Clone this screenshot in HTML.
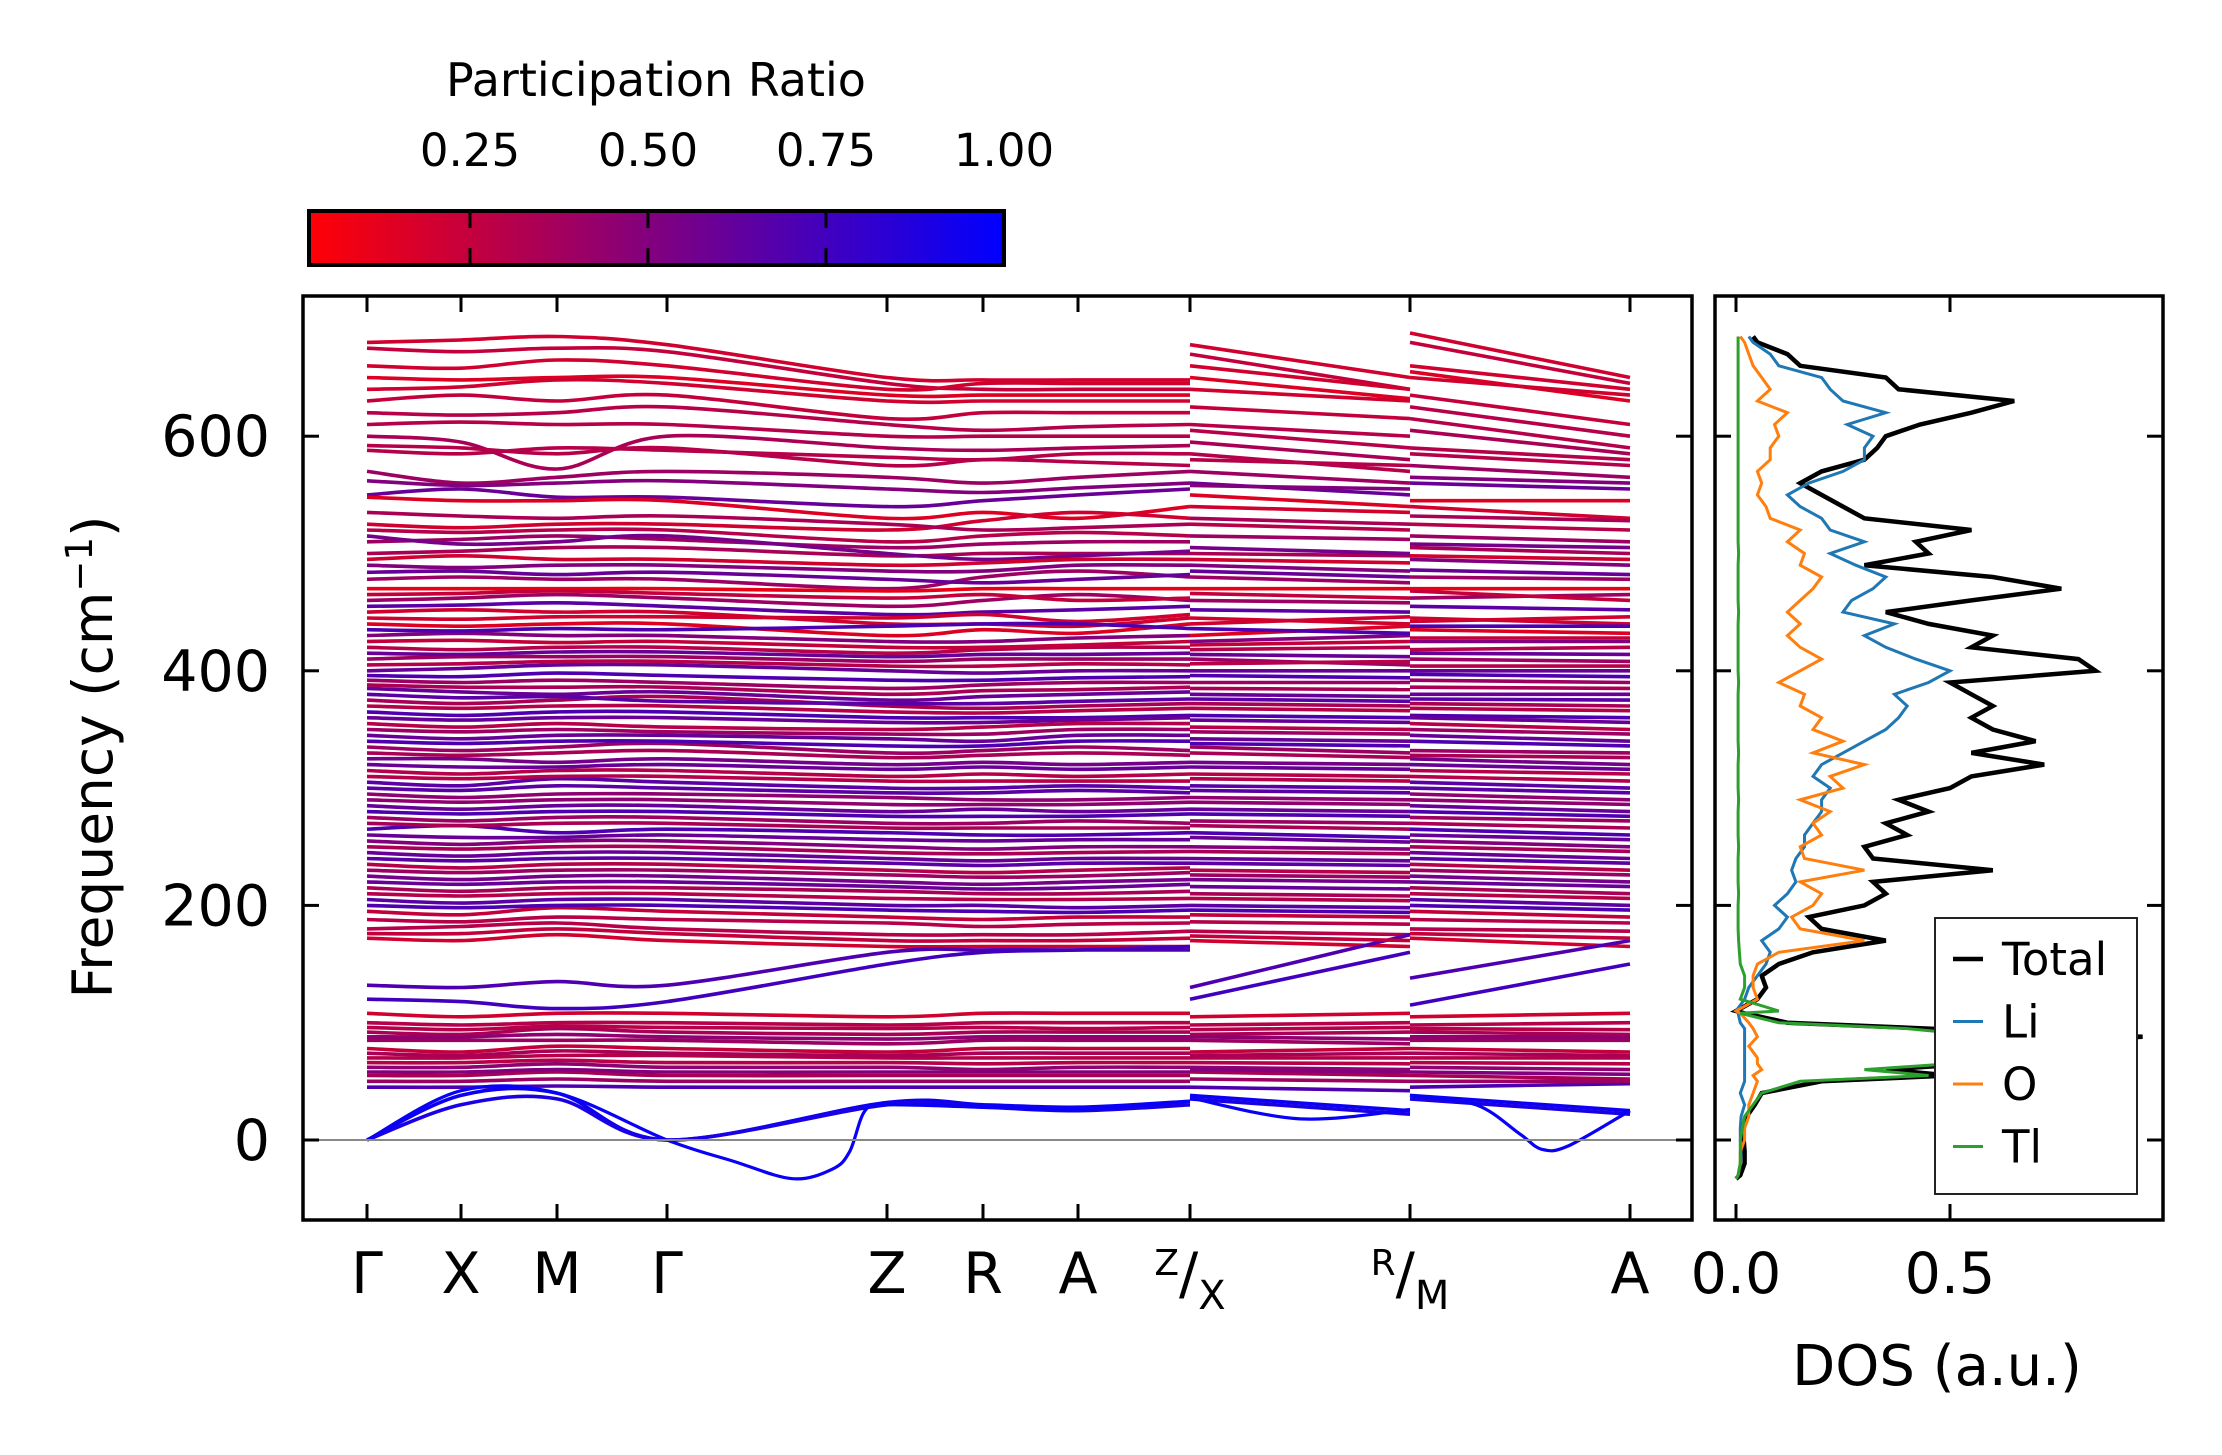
<!DOCTYPE html>
<html><head><meta charset="utf-8">
<style>
html,body{margin:0;padding:0;background:#fff;}
svg{display:block;font-family:"DejaVu Sans","Liberation Sans",sans-serif;}
</style></head>
<body>
<svg id="fig" width="2222" height="1455" viewBox="0 0 2222 1455" xmlns="http://www.w3.org/2000/svg">
<defs>
<linearGradient id="cmap" x1="0" x2="1" y1="0" y2="0">
<stop offset="0" stop-color="#ff0005"/><stop offset="0.5" stop-color="#800080"/><stop offset="1" stop-color="#0000ff"/>
</linearGradient>
<clipPath id="mainclip"><rect x="303" y="296" width="1389" height="924"/></clipPath>
<clipPath id="dosclip"><rect x="1715" y="296" width="448" height="924"/></clipPath>
</defs>
<g id="colorbar">
<text x="656" y="96" font-size="46" text-anchor="middle">Participation Ratio</text>
<rect x="309" y="211" width="695" height="54" fill="url(#cmap)" stroke="#000" stroke-width="4"/>
<g id="cbticks"></g>
</g>
<g id="bands" clip-path="url(#mainclip)"></g>
<line x1="303" x2="1692" y1="1140" y2="1140" stroke="#888" stroke-width="2"/>
<rect x="303" y="296" width="1389" height="924" fill="none" stroke="#000" stroke-width="3.5"/>
<g id="mainticks"></g>
<text transform="translate(112,757) rotate(-90)" font-size="55" text-anchor="middle">Frequency (cm<tspan dy="-20" font-size="37">−1</tspan><tspan dy="20">)</tspan></text>
<g id="dos" clip-path="url(#dosclip)"></g>
<rect x="1715" y="296" width="448" height="924" fill="none" stroke="#000" stroke-width="3.5"/>
<g id="dosticks"></g>
<text x="1937" y="1385" font-size="56" text-anchor="middle">DOS (a.u.)</text>
<g id="legend">
<rect x="1935" y="918" width="202" height="276" fill="#fff" stroke="#222" stroke-width="2"/>
</g>
</svg>
<script>
// ---------- data ----------
const kLabels = ["Γ","X","M","Γ","Z","R","A","Z|X","R|M","A"];
const yTicks = [0,200,400,600];
const cbTicks = [0.25,0.50,0.75,1.00];
const dosTicks = [0.0,0.5];
// band values at nodes: Γ,X,M,Γ,Z,R,A,Z | X,R | M,A
const bandValues = [
[680,682,685,678,650,648,648,648,678,650,688,650],
[675,672,675,672,645,640,640,640,670,640,680,645],
[660,658,665,660,640,645,645,645,660,640,660,640],
[650,648,650,650,635,635,635,635,650,632,655,630],
[640,642,648,645,630,630,630,630,640,630,650,635],
[630,635,630,635,615,620,620,620,625,615,635,610],
[620,618,620,625,610,605,608,610,610,600,625,600],
[610,612,610,610,600,600,600,600,605,590,615,590],
[600,595,572,600,590,588,590,592,595,580,605,585],
[592,590,585,590,575,580,578,575,585,570,590,580],
[570,560,565,570,565,560,565,570,570,560,575,565],
[550,555,548,548,540,545,550,555,560,550,560,555],
[548,545,545,545,530,535,530,540,550,540,545,545],
[525,522,525,525,520,528,535,530,540,535,540,530],
[520,518,520,520,510,515,518,515,525,520,525,520],
[510,512,515,512,505,508,510,510,515,512,515,510],
[500,502,505,505,498,500,500,500,500,498,505,500],
[490,488,490,490,485,485,490,490,490,485,495,490],
[478,480,478,478,470,480,485,480,480,475,480,478],
[470,470,470,470,468,470,470,470,470,470,470,470],
[460,462,465,462,455,460,465,460,460,458,462,465],
[450,452,450,450,440,440,438,445,445,440,445,440],
[440,438,440,440,430,435,432,440,430,438,435,432],
[430,432,430,430,425,425,428,430,425,430,425,425],
[420,418,420,420,415,418,420,420,418,420,418,420],
[410,412,412,412,408,410,410,410,410,405,410,408],
[400,402,405,405,400,398,400,400,400,400,400,400],
[392,390,392,390,385,388,390,390,390,390,392,390],
[385,382,380,382,375,378,380,382,380,378,380,380],
[375,372,375,378,370,368,370,372,372,370,372,370],
[365,362,365,365,360,360,360,362,362,360,362,360],
[355,352,355,352,350,352,355,355,352,350,355,350],
[345,342,345,345,342,340,345,345,342,340,345,340],
[335,332,335,338,330,332,335,332,335,330,332,330],
[325,325,322,325,320,322,320,322,322,320,325,320],
[315,312,315,315,310,312,310,312,312,310,315,312],
[305,302,308,305,300,300,302,300,302,300,305,300],
[295,292,295,295,292,290,290,292,292,290,295,290],
[285,282,285,285,280,282,280,282,282,280,285,280],
[275,272,275,275,270,270,272,270,272,270,275,272],
[265,268,262,265,262,260,260,262,262,258,265,260],
[255,252,255,255,250,248,250,250,250,248,255,250],
[245,242,245,245,240,238,240,240,240,238,245,240],
[235,232,235,235,230,228,230,232,230,228,235,230],
[225,222,225,225,220,218,220,222,222,220,225,220],
[215,212,215,215,212,210,210,212,210,208,215,210],
[205,202,205,205,200,200,198,200,200,198,205,200],
[195,192,198,195,190,188,190,190,192,190,195,190],
[180,182,185,180,175,175,175,178,178,175,180,178],
[172,170,175,170,165,165,165,165,170,165,172,165],
[132,130,135,132,160,162,162,162,130,175,138,170],
[120,118,112,118,150,160,162,165,120,160,115,150],
[108,105,108,108,105,108,108,108,105,108,105,108],
[100,98,100,100,98,100,100,100,98,100,98,100],
[92,90,95,92,90,92,92,92,90,92,92,90],
[85,85,85,85,82,85,85,85,85,82,85,85],
[78,75,80,78,75,78,78,78,75,78,78,75],
[70,70,72,72,70,70,70,70,70,70,70,70],
[62,62,65,62,62,60,62,62,62,60,62,60],
[55,55,58,55,55,55,55,55,58,55,55,52],
[45,45,46,45,45,45,45,45,45,42,45,48],
[0,38,40,0,32,30,28,33,38,25,38,25],
[0,30,35,0,30,28,25,30,35,22,35,22],
[588,585,590,588,582,580,585,585,580,575,585,575],
[562,558,560,562,555,552,556,560,558,555,565,560],
[535,532,530,532,525,520,522,525,530,525,532,528],
[515,508,510,515,500,495,498,502,505,500,508,505],
[495,498,495,495,490,492,495,495,495,492,498,495],
[484,485,482,484,478,475,478,482,485,480,486,482],
[465,466,468,466,462,465,460,462,466,462,468,460],
[455,456,458,455,448,450,452,455,452,450,455,452],
[445,444,446,446,445,448,442,448,440,446,442,446],
[435,434,436,435,438,440,440,436,436,432,438,438],
[425,426,424,425,420,420,422,425,422,425,428,428],
[415,414,416,416,412,414,414,415,414,412,415,414],
[405,406,408,408,404,404,406,405,406,408,404,404],
[396,395,398,396,392,392,394,395,396,394,397,395],
[388,386,386,386,380,383,384,386,385,384,386,385],
[380,377,378,374,372,372,374,376,376,374,376,375],
[370,368,370,370,365,364,366,368,368,366,368,366],
[360,358,360,360,356,356,358,360,358,356,360,356],
[350,348,350,348,346,346,350,350,348,346,350,346],
[340,338,340,340,336,336,340,340,338,336,340,336],
[330,328,330,332,326,328,330,328,330,326,328,326],
[320,318,318,320,316,318,316,318,318,316,320,316],
[310,308,310,310,306,306,306,306,308,306,310,306],
[300,298,302,300,296,296,298,296,298,296,300,296],
[290,288,290,290,286,286,286,288,288,286,290,286],
[280,278,280,280,276,276,276,278,278,276,280,276],
[270,268,270,270,266,266,266,266,268,265,270,266],
[260,258,258,260,256,255,256,256,258,254,260,256],
[250,248,250,250,245,244,245,246,246,244,250,246],
[240,238,240,240,236,234,236,236,236,234,240,236],
[230,228,230,230,226,224,225,228,226,224,230,226],
[220,218,220,220,216,214,215,218,216,214,220,216],
[210,208,210,210,206,205,205,206,206,204,210,206],
[200,198,200,200,196,195,194,196,196,194,200,196],
[188,186,190,188,185,182,184,185,186,184,188,185],
[176,176,180,176,170,170,170,172,174,170,176,172],
[96,94,97,96,95,96,95,96,94,96,95,94],
[88,88,90,88,86,88,88,88,88,86,88,88],
[74,72,76,74,72,74,74,74,72,74,74,72],
[66,66,68,66,66,65,66,66,66,65,66,65],
[58,58,60,58,58,58,58,58,60,58,58,56],
[50,50,52,50,50,50,50,50,52,50,50,50]
];
const bandRatios = [0.2,0.25,0.2,0.15,0.2,0.25,0.3,0.3,0.35,0.3,0.4,0.6,0.15,0.2,0.3,0.4,0.35,0.5,0.4,0.1,0.4,0.2,0.15,0.5,0.3,0.4,0.6,0.4,0.6,0.35,0.7,0.3,0.6,0.4,0.55,0.3,0.65,0.45,0.6,0.4,0.7,0.5,0.6,0.3,0.55,0.35,0.65,0.25,0.3,0.2,0.7,0.75,0.2,0.3,0.35,0.4,0.25,0.3,0.45,0.35,0.7,0.95,0.9,
0.3,0.5,0.35,0.55,0.2,0.6,0.25,0.65,0.2,0.7,0.25,0.6,0.3,0.7,0.35,0.65,0.3,0.6,0.4,0.7,0.35,0.6,0.3,0.65,0.45,0.7,0.35,0.6,0.35,0.65,0.4,0.6,0.3,0.7,0.3,0.25,0.3,0.45,0.35,0.3,0.5,0.4];
// soft mode branches (fractional node index k, frequency)
const softK1 = [0,1,2,3,3.3,3.57,3.75,3.83,3.9,4,5,6,7];
const softF1 = [0,42,40,0,-18,-33,-25,-10,25,30,28,26,33];
const softK2 = [10,10.3,10.5,10.6,10.72,11];
const softF2 = [38,30,5,-8,-5,25];
const softK3 = [8,8.5,9];
const softF3 = [36,18,26];
// DOS data
const dosFreq = [-33,-30,-20,-10,0,10,20,30,40,50,55,60,65,70,80,88,95,100,108,110,120,130,140,150,160,170,180,190,200,210,220,230,240,250,260,270,280,290,300,310,320,330,340,350,360,370,380,390,400,410,420,430,440,450,460,470,480,490,500,510,520,530,540,550,560,570,580,590,600,610,620,630,640,650,660,670,680,685];
const dosTotal = [0,0.01,0.02,0.02,0.018,0.016,0.025,0.044,0.06,0.2,0.5,0.35,0.55,0.7,0.5,0.95,0.45,0.12,0.02,0,0.05,0.07,0.06,0.1,0.18,0.35,0.2,0.17,0.3,0.35,0.32,0.6,0.32,0.3,0.4,0.35,0.45,0.38,0.5,0.55,0.72,0.55,0.7,0.6,0.55,0.6,0.55,0.5,0.84,0.8,0.55,0.6,0.45,0.35,0.55,0.76,0.6,0.3,0.45,0.42,0.55,0.3,0.25,0.2,0.15,0.2,0.3,0.33,0.35,0.43,0.55,0.65,0.38,0.35,0.15,0.12,0.05,0.04];
const dosLi = [0,0.005,0.01,0.012,0.01,0.01,0.012,0.02,0.01,0.02,0.02,0.02,0.02,0.02,0.02,0.02,0.02,0.01,0.005,0,0.02,0.03,0.05,0.07,0.08,0.06,0.1,0.12,0.09,0.12,0.14,0.13,0.14,0.16,0.16,0.18,0.2,0.2,0.22,0.18,0.2,0.25,0.3,0.35,0.38,0.4,0.37,0.45,0.5,0.42,0.35,0.3,0.37,0.25,0.27,0.32,0.35,0.28,0.22,0.3,0.22,0.2,0.15,0.12,0.17,0.25,0.3,0.3,0.32,0.26,0.35,0.25,0.22,0.2,0.1,0.08,0.04,0.03];
const dosO = [0,0.005,0.01,0.01,0.02,0.02,0.03,0.03,0.04,0.05,0.04,0.06,0.05,0.05,0.03,0.05,0.04,0.03,0.01,0,0.05,0.04,0.04,0.05,0.1,0.3,0.15,0.13,0.18,0.2,0.15,0.3,0.16,0.15,0.2,0.18,0.22,0.15,0.25,0.22,0.3,0.18,0.25,0.18,0.2,0.15,0.16,0.1,0.15,0.2,0.15,0.12,0.15,0.12,0.15,0.18,0.2,0.15,0.16,0.12,0.15,0.08,0.07,0.05,0.06,0.05,0.08,0.08,0.1,0.09,0.12,0.05,0.08,0.06,0.04,0.03,0.02,0.01];
const dosTl = [0,0.005,0.01,0.01,0.01,0.015,0.02,0.04,0.06,0.15,0.45,0.3,0.5,0.55,0.5,0.6,0.4,0.1,0.01,0.1,0.01,0.02,0.02,0.01,0.008,0.006,0.005,0.005,0.005,0.006,0.005,0.005,0.005,0.006,0.005,0.005,0.005,0.006,0.005,0.005,0.005,0.006,0.005,0.005,0.005,0.005,0.005,0.006,0.005,0.005,0.005,0.005,0.005,0.006,0.005,0.005,0.005,0.005,0.006,0.005,0.005,0.005,0.005,0.005,0.005,0.005,0.005,0.005,0.005,0.005,0.005,0.005,0.005,0.005,0.005,0.005,0.005,0.005];
const legendNames = ["Total","Li","O","Tl"];
const legendColors = ["#000000","#1f77b4","#ff7f0e","#2ca02c"];

// ---------- scales ----------
const NS="http://www.w3.org/2000/svg";
const nodeX = [367,461,557,667,887,983,1078,1190,1190,1410,1410,1630];
const tickX = [367,461,557,667,887,983,1078,1190,1410,1630];
const fy = f => 1140 - f*1.173;
function kx(k){const i=Math.min(Math.floor(k),nodeX.length-2);const t=k-i;return nodeX[i]+(nodeX[i+1]-nodeX[i])*t;}
const dx = v => 1736 + v*428;
const cbx = v => 1004 - (1.0 - v)*712;
function pcol(p){const t=Math.max(0,Math.min(1,(p-0.02)/0.98));const r=Math.round(255*(1-t)),b=Math.round(255*t);return "rgb("+r+",0,"+b+")";}
function crPath(pts){let d="M"+pts[0][0].toFixed(1)+","+pts[0][1].toFixed(1);
 for(let i=0;i<pts.length-1;i++){const p0=pts[Math.max(0,i-1)],p1=pts[i],p2=pts[i+1],p3=pts[Math.min(pts.length-1,i+2)];
  const c1=[p1[0]+(p2[0]-p0[0])/6,p1[1]+(p2[1]-p0[1])/6],c2=[p2[0]-(p3[0]-p1[0])/6,p2[1]-(p3[1]-p1[1])/6];
  d+="C"+c1[0].toFixed(1)+","+c1[1].toFixed(1)+" "+c2[0].toFixed(1)+","+c2[1].toFixed(1)+" "+p2[0].toFixed(1)+","+p2[1].toFixed(1);}
 return d;}
function mk(tag,attrs,parent){const e=document.createElementNS(NS,tag);for(const k in attrs)e.setAttribute(k,attrs[k]);parent.appendChild(e);return e;}

// ---------- bands ----------
const gB=document.getElementById('bands');
const segs=[[0,7],[8,9],[10,11]];
bandValues.forEach(function(v,bi){
 const col=pcol(bandRatios[bi]);
 segs.forEach(function(s){const pts=[];for(let i=s[0];i<=s[1];i++)pts.push([nodeX[i],fy(v[i])]);
  const p=mk('path',{d:crPath(pts),fill:'none',stroke:col,'stroke-width':3.6},gB);
  
  });
});
[[softK1,softF1],[softK2,softF2],[softK3,softF3]].forEach(function(kf){
 const pts=kf[0].map(function(k,i){return [kx(k),fy(kf[1][i])];});
 const p=mk('path',{d:crPath(pts),fill:'none',stroke:pcol(0.97),'stroke-width':3.2},gB);
 
 
});

// ---------- main ticks ----------
const gT=document.getElementById('mainticks');
tickX.forEach(function(x,i){
 mk('line',{x1:x,x2:x,y1:1220,y2:1204,stroke:'#000','stroke-width':3},gT);
 mk('line',{x1:x,x2:x,y1:296,y2:312,stroke:'#000','stroke-width':3},gT);
 const lab=kLabels[i];
 const t=mk('text',{x:x,y:1293,'font-size':57,'text-anchor':'middle'},gT);
 if(lab.indexOf('|')>=0){const ab=lab.split('|');
  const s1=mk('tspan',{'font-size':36,dy:-18},t);s1.textContent=ab[0];
  const s2=mk('tspan',{'font-size':57,dy:18},t);s2.textContent='/';
  const s3=mk('tspan',{'font-size':40,dy:16},t);s3.textContent=ab[1];
 } else {t.textContent=lab;}
 
 
});
yTicks.forEach(function(v){const y=fy(v);
 mk('line',{x1:303,x2:319,y1:y,y2:y,stroke:'#000','stroke-width':3},gT);
 mk('line',{x1:1692,x2:1676,y1:y,y2:y,stroke:'#000','stroke-width':3},gT);
 const t=mk('text',{x:270,y:y+20,'font-size':57,'text-anchor':'end'},gT);t.textContent=String(v);
 
 
});

// ---------- colorbar ticks ----------
const gC=document.getElementById('cbticks');
cbTicks.forEach(function(v){const x=cbx(v);
 if(v<1){mk('line',{x1:x,x2:x,y1:211,y2:228,stroke:'#000','stroke-width':3},gC);
  mk('line',{x1:x,x2:x,y1:248,y2:265,stroke:'#000','stroke-width':3},gC);}
 const t=mk('text',{x:x,y:166,'font-size':45,'text-anchor':'middle'},gC);t.textContent=v.toFixed(2);
 
 
});

// ---------- DOS ----------
const gD=document.getElementById('dos');
const series=[[dosTotal,0,4.5],[dosLi,1,3],[dosO,2,3],[dosTl,3,3]];
series.forEach(function(s){
 const vals=s[0],ci=s[1],w=s[2];
 const pts=vals.map(function(v,i){return dx(v).toFixed(1)+","+fy(dosFreq[i]).toFixed(1);}).join(' ');
 const pl=mk('polyline',{points:pts,fill:'none',stroke:legendColors[ci],'stroke-width':w},gD);
 
 
});
const gDT=document.getElementById('dosticks');
dosTicks.forEach(function(v){const x=dx(v);
 mk('line',{x1:x,x2:x,y1:1220,y2:1204,stroke:'#000','stroke-width':3},gDT);
 mk('line',{x1:x,x2:x,y1:296,y2:312,stroke:'#000','stroke-width':3},gDT);
 const t=mk('text',{x:x,y:1293,'font-size':57,'text-anchor':'middle'},gDT);t.textContent=v.toFixed(1);
 
 
});
yTicks.forEach(function(v){const y=fy(v);
 mk('line',{x1:1715,x2:1731,y1:y,y2:y,stroke:'#000','stroke-width':3},gDT);
 mk('line',{x1:2163,x2:2147,y1:y,y2:y,stroke:'#000','stroke-width':3},gDT);
});
// legend
const gL=document.getElementById('legend');
legendNames.forEach(function(n,i){const y=959+i*62.5;
 const l=mk('line',{x1:1953,x2:1983,y1:y,y2:y,stroke:legendColors[i],'stroke-width':i===0?4.5:3},gL);
 
 
 const t=mk('text',{x:2002,y:y+16,'font-size':45},gL);t.textContent=n;
 
 
});
</script>
</body></html>
